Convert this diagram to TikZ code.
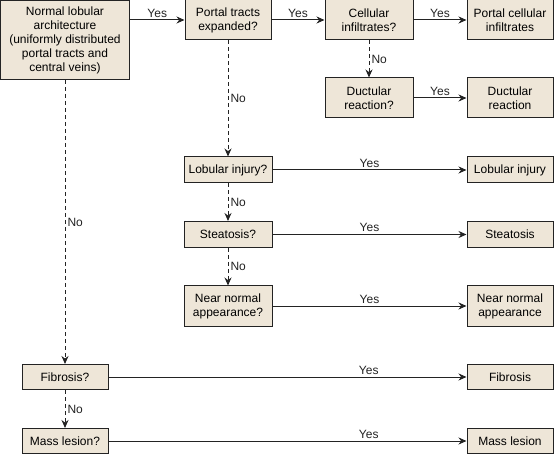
\documentclass[tikz,border=0pt]{standalone}
\usepackage{fontspec}
\setmainfont{Liberation Sans}
\usetikzlibrary{arrows.meta}
\definecolor{BoxFill}{RGB}{238,230,216}
\definecolor{LineColor}{RGB}{35,35,35}

\begin{document}
\begin{tikzpicture}[x=1pt, y=-1pt,
    box/.style={draw=LineColor, fill=BoxFill, line width=1pt, align=center,
      inner sep=0pt, font=\fontsize{12}{14}\selectfont},
    yesarrow/.style={-{Stealth[length=8pt,width=7pt]}, line width=1pt, LineColor},
    noarrow/.style={yesarrow, dash pattern=on 4pt off 3pt},
    lbl/.style={font=\fontsize{12}{13}\selectfont, inner sep=2pt}]
  \useasboundingbox (0,0) rectangle (554,454);
  % left column
  \node[box, minimum width=129pt, minimum height=79pt] (normal) at (65,40)
    {Normal lobular\\architecture\\(uniformly distributed\\portal tracts and\\central veins)};
  \node[box, minimum width=86pt, minimum height=25pt] (fibq) at (65,377) {Fibrosis?};
  \node[box, minimum width=86pt, minimum height=25pt] (massq) at (65,441) {Mass lesion?};
  % middle columns
  \node[box, minimum width=86pt, minimum height=40pt] (portalq) at (228,20) {Portal tracts\\expanded?};
  \node[box, minimum width=88pt, minimum height=40pt] (cellq) at (369,20) {Cellular\\infiltrates?};
  \node[box, minimum width=88pt, minimum height=40pt] (ductq) at (369,98) {Ductular\\reaction?};
  \node[box, minimum width=88pt, minimum height=26pt] (lobq) at (228,170) {Lobular injury?};
  \node[box, minimum width=88pt, minimum height=26pt] (steaq) at (228,234.5) {Steatosis?};
  \node[box, minimum width=88pt, minimum height=40pt] (nearq) at (228,306) {Near normal\\appearance?};
  % right column
  \node[box, minimum width=86pt, minimum height=40pt] (portalcell) at (510,20) {Portal cellular\\infiltrates};
  \node[box, minimum width=86pt, minimum height=40pt] (duct) at (510,98) {Ductular\\reaction};
  \node[box, minimum width=86pt, minimum height=26pt] (lob) at (510,170) {Lobular injury};
  \node[box, minimum width=86pt, minimum height=26pt] (stea) at (510,234.5) {Steatosis};
  \node[box, minimum width=86pt, minimum height=40pt] (near) at (510,306) {Near normal\\appearance};
  \node[box, minimum width=86pt, minimum height=25pt] (fib) at (510,377) {Fibrosis};
  \node[box, minimum width=86pt, minimum height=25pt] (mass) at (510,441) {Mass lesion};

  % yes branches
  \draw[yesarrow] (portalq.west -| normal.east) -- node[lbl, above] {Yes} (portalq.west);
  \draw[yesarrow] (portalq) -- node[lbl, above] {Yes} (cellq);
  \draw[yesarrow] (cellq) -- node[lbl, above] {Yes} (portalcell);
  \draw[yesarrow] (ductq) -- node[lbl, above] {Yes} (duct);
  \draw[yesarrow] (lobq) -- node[lbl, above] {Yes} (lob);
  \draw[yesarrow] (steaq) -- node[lbl, above] {Yes} (stea);
  \draw[yesarrow] (nearq) -- node[lbl, above] {Yes} (near);
  \draw[yesarrow] (fibq) -- node[lbl, above, pos=0.727] {Yes} (fib);
  \draw[yesarrow] (massq) -- node[lbl, above, pos=0.727] {Yes} (mass);

  % no branches
  \draw[noarrow] (normal) -- node[lbl, right] {No} (fibq);
  \draw[noarrow] (fibq) -- node[lbl, right] {No} (massq);
  \draw[noarrow] (portalq) -- node[lbl, right] {No} (lobq);
  \draw[noarrow] (cellq) -- node[lbl, right] {No} (ductq);
  \draw[noarrow] (lobq) -- node[lbl, right] {No} (steaq);
  \draw[noarrow] (steaq) -- node[lbl, right] {No} (nearq);
\end{tikzpicture}
\end{document}
